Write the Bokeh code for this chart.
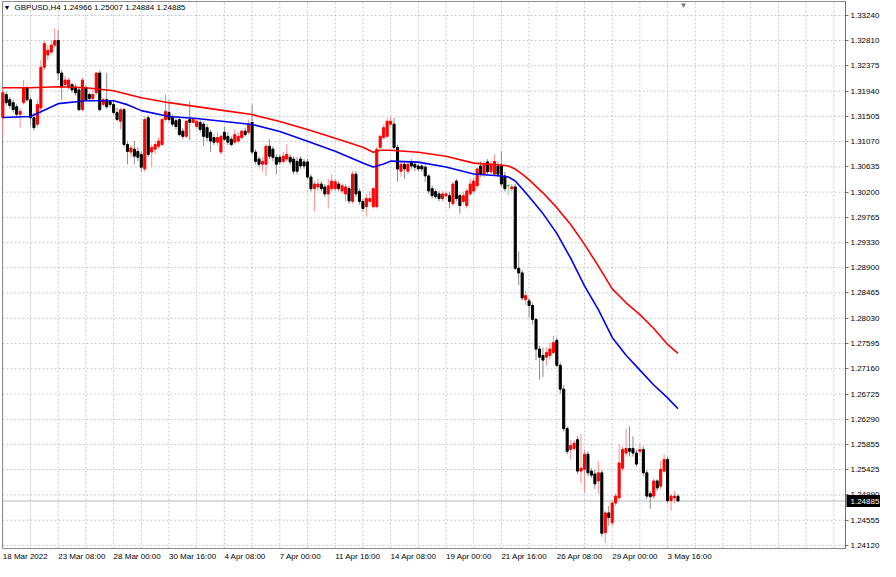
from bokeh.plotting import figure
from bokeh.models import (ColumnDataSource, Range1d, FixedTicker, Label, LabelSet,
                          LinearAxis, NumeralTickFormatter)
from bokeh.core.properties import value
from bokeh.embed import file_html
from bokeh.resources import INLINE

# ---------------- data ----------------
symbol = "GBPUSD,H4"

open_ = [
    1.3148, 1.3188, 1.3179, 1.3174, 1.3167, 1.3154, 1.3174, 1.3200, 1.3179, 1.3148,
    1.3137, 1.3165, 1.3235, 1.3256, 1.3261, 1.3273, 1.3281, 1.3225, 1.3205, 1.3201,
    1.3205, 1.3201, 1.3196, 1.3162, 1.3200, 1.3188, 1.3181, 1.3191, 1.3225, 1.3171,
    1.3179, 1.3176, 1.3171, 1.3157, 1.3142, 1.3162, 1.3102, 1.3089, 1.3094, 1.3090,
    1.3085, 1.3060, 1.3148, 1.3089, 1.3094, 1.3099, 1.3102, 1.3145, 1.3157, 1.3148,
    1.3143, 1.3145, 1.3125, 1.3116, 1.3145, 1.3140, 1.3133, 1.3140, 1.3137, 1.3131,
    1.3123, 1.3114, 1.3106, 1.3089, 1.3123, 1.3116, 1.3111, 1.3106, 1.3108, 1.3114,
    1.3125, 1.3123, 1.3140, 1.3089, 1.3077, 1.3068, 1.3068, 1.3099, 1.3094, 1.3080,
    1.3080, 1.3073, 1.3077, 1.3080, 1.3077, 1.3073, 1.3077, 1.3072, 1.3072, 1.3046,
    1.3026, 1.3029, 1.3034, 1.3029, 1.3017, 1.3026, 1.3026, 1.3034, 1.3022, 1.3017,
    1.3026, 1.3004, 1.3051, 1.3021, 1.3004, 1.2995, 1.3004, 1.2995, 1.2995, 1.3097,
    1.3114, 1.3116, 1.3137, 1.3137, 1.3097, 1.3056, 1.3068, 1.3056, 1.3072, 1.3068,
    1.3065, 1.3065, 1.3063, 1.3048, 1.3026, 1.3021, 1.3017, 1.3009, 1.3014, 1.3014,
    1.3000, 1.3039, 1.3014, 1.3004, 1.2997, 1.3017, 1.3022, 1.3031, 1.3065, 1.3051,
    1.3072, 1.3055, 1.3051, 1.3065, 1.3065, 1.3048, 1.3031, 1.3026, 1.3029, 1.2889,
    1.2881, 1.2835, 1.2833, 1.2825, 1.2801, 1.2750, 1.2739, 1.2736, 1.2739, 1.2744,
    1.2765, 1.2722, 1.2681, 1.2613, 1.2577, 1.2579, 1.2594, 1.2540, 1.2543, 1.2569,
    1.2540, 1.2535, 1.2523, 1.2537, 1.2434, 1.2468, 1.2451, 1.2485, 1.2494, 1.2545,
    1.2571, 1.2579, 1.2579, 1.2571, 1.2574, 1.2577, 1.2537, 1.2501, 1.2497, 1.2523,
    1.2514, 1.2540, 1.2560, 1.2489, 1.2494, 1.24966,
]
high = [
    1.3200, 1.3193, 1.3184, 1.3179, 1.3172, 1.3164, 1.3213, 1.3203, 1.3184, 1.3157,
    1.3179, 1.3247, 1.3281, 1.3273, 1.3281, 1.3302, 1.3299, 1.3230, 1.3220, 1.3217,
    1.3208, 1.3206, 1.3201, 1.3217, 1.3205, 1.3191, 1.3196, 1.3227, 1.3230, 1.3183,
    1.3225, 1.3179, 1.3177, 1.3165, 1.3165, 1.3165, 1.3108, 1.3101, 1.3108, 1.3097,
    1.3090, 1.3150, 1.3152, 1.3102, 1.3108, 1.3114, 1.3148, 1.3188, 1.3179, 1.3154,
    1.3148, 1.3148, 1.3130, 1.3145, 1.3176, 1.3148, 1.3145, 1.3145, 1.3142, 1.3137,
    1.3128, 1.3119, 1.3123, 1.3119, 1.3133, 1.3123, 1.3116, 1.3128, 1.3123, 1.3128,
    1.3131, 1.3145, 1.3171, 1.3094, 1.3082, 1.3080, 1.3102, 1.3111, 1.3099, 1.3085,
    1.3085, 1.3089, 1.3102, 1.3085, 1.3082, 1.3080, 1.3082, 1.3077, 1.3077, 1.3051,
    1.3039, 1.3043, 1.3039, 1.3034, 1.3043, 1.3051, 1.3043, 1.3039, 1.3036, 1.3034,
    1.3031, 1.3056, 1.3056, 1.3026, 1.3009, 1.3017, 1.3022, 1.3029, 1.3097, 1.3119,
    1.3137, 1.3148, 1.3150, 1.3148, 1.3102, 1.3073, 1.3073, 1.3073, 1.3077, 1.3072,
    1.3070, 1.3068, 1.3068, 1.3051, 1.3031, 1.3026, 1.3022, 1.3022, 1.3021, 1.3021,
    1.3038, 1.3043, 1.3017, 1.3021, 1.3026, 1.3043, 1.3046, 1.3063, 1.3073, 1.3073,
    1.3077, 1.3073, 1.3085, 1.3073, 1.3090, 1.3055, 1.3034, 1.3034, 1.3034, 1.2918,
    1.2886, 1.2850, 1.2838, 1.2830, 1.2804, 1.2756, 1.2753, 1.2753, 1.2761, 1.2773,
    1.2770, 1.2727, 1.2688, 1.2617, 1.2594, 1.2594, 1.2600, 1.2603, 1.2577, 1.2574,
    1.2545, 1.2542, 1.2557, 1.2542, 1.2472, 1.2480, 1.2489, 1.2502, 1.2586, 1.2583,
    1.2613, 1.2617, 1.2600, 1.2577, 1.2588, 1.2583, 1.2542, 1.2506, 1.2528, 1.2526,
    1.2557, 1.2569, 1.2565, 1.2501, 1.2506, 1.25007,
]
low = [
    1.3119, 1.3169, 1.3164, 1.3157, 1.3148, 1.3131, 1.3171, 1.3176, 1.3133, 1.3126,
    1.3131, 1.3154, 1.3230, 1.3247, 1.3256, 1.3268, 1.3213, 1.3179, 1.3200, 1.3196,
    1.3191, 1.3186, 1.3159, 1.3159, 1.3176, 1.3177, 1.3179, 1.3188, 1.3159, 1.3167,
    1.3164, 1.3165, 1.3154, 1.3142, 1.3128, 1.3097, 1.3068, 1.3080, 1.3068, 1.3073,
    1.3055, 1.3055, 1.3080, 1.3063, 1.3085, 1.3094, 1.3099, 1.3142, 1.3140, 1.3133,
    1.3128, 1.3116, 1.3111, 1.3113, 1.3109, 1.3137, 1.3128, 1.3123, 1.3099, 1.3108,
    1.3089, 1.3101, 1.3101, 1.3085, 1.3108, 1.3101, 1.3099, 1.3102, 1.3104, 1.3109,
    1.3116, 1.3119, 1.3085, 1.3068, 1.3063, 1.3056, 1.3048, 1.3077, 1.3073, 1.3051,
    1.3067, 1.3068, 1.3072, 1.3067, 1.3051, 1.3051, 1.3060, 1.3060, 1.3043, 1.3021,
    1.2987, 1.3022, 1.3021, 1.3012, 1.2992, 1.3021, 1.3022, 1.3021, 1.3017, 1.3004,
    1.3000, 1.3000, 1.3012, 1.2998, 1.2987, 1.2978, 1.3000, 1.2992, 1.2992, 1.3094,
    1.3111, 1.3113, 1.3133, 1.3094, 1.3038, 1.3046, 1.3043, 1.3051, 1.3060, 1.3056,
    1.3056, 1.3055, 1.3038, 1.3017, 1.3009, 1.3009, 1.3004, 1.3004, 1.3009, 1.2992,
    1.2997, 1.3004, 1.2983, 1.3000, 1.2992, 1.3014, 1.3017, 1.3026, 1.3046, 1.3046,
    1.3050, 1.3051, 1.3048, 1.3046, 1.3029, 1.3021, 1.3014, 1.3021, 1.2886, 1.2860,
    1.2833, 1.2826, 1.2804, 1.2792, 1.2731, 1.2698, 1.2702, 1.2722, 1.2732, 1.2741,
    1.2719, 1.2673, 1.2608, 1.2569, 1.2560, 1.2574, 1.2535, 1.2519, 1.2502, 1.2531,
    1.2528, 1.2509, 1.2501, 1.2427, 1.2416, 1.2446, 1.2446, 1.2480, 1.2489, 1.2540,
    1.2565, 1.2565, 1.2565, 1.2548, 1.2569, 1.2531, 1.2492, 1.2475, 1.2492, 1.2506,
    1.2509, 1.2537, 1.2485, 1.2472, 1.2485, 1.24884,
]
close = [
    1.3191, 1.3174, 1.3169, 1.3162, 1.3154, 1.3159, 1.3200, 1.3179, 1.3148, 1.3131,
    1.3171, 1.3235, 1.3276, 1.3264, 1.3273, 1.3281, 1.3225, 1.3201, 1.3213, 1.3213,
    1.3196, 1.3191, 1.3162, 1.3213, 1.3179, 1.3181, 1.3188, 1.3225, 1.3162, 1.3179,
    1.3167, 1.3171, 1.3157, 1.3145, 1.3162, 1.3102, 1.3090, 1.3096, 1.3082, 1.3080,
    1.3063, 1.3145, 1.3085, 1.3097, 1.3102, 1.3108, 1.3145, 1.3159, 1.3145, 1.3137,
    1.3133, 1.3119, 1.3116, 1.3142, 1.3140, 1.3145, 1.3142, 1.3128, 1.3116, 1.3114,
    1.3108, 1.3106, 1.3114, 1.3116, 1.3111, 1.3106, 1.3102, 1.3119, 1.3116, 1.3125,
    1.3119, 1.3137, 1.3089, 1.3073, 1.3068, 1.3073, 1.3099, 1.3082, 1.3080, 1.3068,
    1.3072, 1.3082, 1.3085, 1.3072, 1.3056, 1.3056, 1.3065, 1.3065, 1.3046, 1.3026,
    1.3034, 1.3034, 1.3026, 1.3017, 1.3031, 1.3039, 1.3038, 1.3026, 1.3031, 1.3029,
    1.3005, 1.3051, 1.3017, 1.3004, 1.2992, 1.3009, 1.3009, 1.3026, 1.3094, 1.3116,
    1.3131, 1.3142, 1.3142, 1.3097, 1.3060, 1.3068, 1.3060, 1.3068, 1.3065, 1.3063,
    1.3060, 1.3060, 1.3048, 1.3022, 1.3014, 1.3012, 1.3009, 1.3017, 1.3017, 1.3004,
    1.3034, 1.3009, 1.2997, 1.3014, 1.3022, 1.3034, 1.3039, 1.3060, 1.3051, 1.3068,
    1.3055, 1.3068, 1.3073, 1.3051, 1.3034, 1.3026, 1.3031, 1.3029, 1.2889, 1.2881,
    1.2838, 1.2842, 1.2825, 1.2801, 1.2750, 1.2736, 1.2731, 1.2744, 1.2750, 1.2761,
    1.2722, 1.2681, 1.2613, 1.2574, 1.2584, 1.2588, 1.2540, 1.2545, 1.2569, 1.2537,
    1.2533, 1.2518, 1.2537, 1.2433, 1.2468, 1.2460, 1.2485, 1.2497, 1.2554, 1.2577,
    1.2579, 1.2574, 1.2571, 1.2552, 1.2577, 1.2537, 1.2497, 1.2496, 1.2523, 1.2511,
    1.2543, 1.2560, 1.2489, 1.2497, 1.2497, 1.24885,
]

# moving averages (values read at sampled bars)
ma_slow_bars = [0, 8, 16, 24, 32, 40, 48, 56, 64, 72, 80, 88, 96, 104, 107, 109, 112,
                120, 128, 136, 140, 144, 146, 148, 150, 152, 156, 160, 164, 168, 172,
                176, 180, 184, 188, 192, 195]
ma_slow = [1.31996, 1.31996, 1.32013, 1.31996, 1.31944, 1.31825, 1.31740, 1.31672,
           1.31603, 1.31535, 1.31416, 1.31280, 1.31126, 1.30973, 1.30887, 1.30922,
           1.30922, 1.30887, 1.30819, 1.30700, 1.30683, 1.30666, 1.30649, 1.30598,
           1.30512, 1.30410, 1.30189, 1.29933, 1.29643, 1.29302, 1.28927, 1.28535,
           1.28296, 1.28092, 1.27853, 1.27580, 1.27427]
ma_fast_bars = [0, 8, 16, 24, 32, 36, 40, 48, 56, 64, 72, 80, 88, 96, 104, 107, 110,
                112, 120, 128, 136, 140, 144, 146, 148, 150, 152, 156, 160, 164, 168,
                172, 176, 180, 184, 188, 192, 195]
ma_fast = [1.31484, 1.31501, 1.31723, 1.31774, 1.31774, 1.31706, 1.31603, 1.31501,
           1.31467, 1.31416, 1.31365, 1.31245, 1.31075, 1.30904, 1.30700, 1.30632,
           1.30683, 1.30734, 1.30717, 1.30632, 1.30512, 1.30495, 1.30478, 1.30461,
           1.30393, 1.30257, 1.30120, 1.29831, 1.29490, 1.29063, 1.28586, 1.28177,
           1.27700, 1.27393, 1.27137, 1.26881, 1.26660, 1.26472]

x_tick_bars = [0, 16, 32, 48, 64, 80, 96, 112, 128, 144, 160, 176, 192]
x_tick_labels = ["18 Mar 2022", "23 Mar 08:00", "28 Mar 00:00", "30 Mar 16:00",
                 "4 Apr 08:00", "7 Apr 00:00", "11 Apr 16:00", "14 Apr 08:00",
                 "19 Apr 00:00", "21 Apr 16:00", "26 Apr 08:00", "29 Apr 00:00",
                 "3 May 16:00"]
y_ticks = [1.33240, 1.32810, 1.32375, 1.31940, 1.31505, 1.31070, 1.30635, 1.30200,
           1.29765, 1.29330, 1.28900, 1.28465, 1.28030, 1.27595, 1.27160, 1.26725,
           1.26290, 1.25855, 1.25425, 1.24990, 1.24555, 1.24120]

# ---------------- geometry / style ----------------
W, H = 880, 561
PX_PER_BAR = 3.4625        # horizontal spacing of bars
BAR0_PX = 2.3              # canvas x of the first bar
PX_PER_UNIT = 5811.0       # vertical pixels per 1.0 of price
REF_PRICE, REF_PX = 1.33240, 15
X_START = -BAR0_PX / PX_PER_BAR
X_END = X_START + W / PX_PER_BAR
Y_TOP = REF_PRICE + REF_PX / PX_PER_UNIT
Y_BOTTOM = Y_TOP - H / PX_PER_UNIT


def xd(px):
    return X_START + px / PX_PER_BAR


def yd(py):
    return Y_TOP - py / PX_PER_UNIT


PLOT_L, PLOT_T, PLOT_R, PLOT_B = 2, 1, 845, 548
FONT = "Liberation Sans"
FS = "8px"
GRID_COLOR = "#c3c9d2"

bars = list(range(len(close)))
body_top, body_bot, body_col, wick_col = [], [], [], []
for o, c in zip(open_, close):
    body_top.append(max(o, c))
    body_bot.append(min(o, c))
    if c > o:
        body_col.append("#ff0000"); wick_col.append("#ff8c8c")
    elif c < o:
        body_col.append("#000000"); wick_col.append("#8c8c8c")
    else:
        body_col.append("#00cc00"); wick_col.append("#8ce08c")

src = ColumnDataSource(dict(x=bars, high=high, low=low, top=body_top, bottom=body_bot,
                            bc=body_col, wc=wick_col))

p = figure(width=W, height=H, x_range=Range1d(X_START, X_END),
           y_range=Range1d(Y_BOTTOM, Y_TOP), x_axis_type=None, y_axis_type=None,
           output_backend="svg", toolbar_location=None, min_border=0,
           background_fill_color="white", border_fill_color="white",
           outline_line_color=None)

# grid (dotted, only inside the chart area)
x_left, x_right, y_top_, y_bot_ = xd(PLOT_L), xd(PLOT_R), yd(PLOT_T), yd(PLOT_B)
grid_bars = [b for b in range(0, 256, 8) if xd(0) <= b <= x_right]
p.segment(x0=[x_left] * len(y_ticks), x1=[x_right] * len(y_ticks), y0=y_ticks, y1=y_ticks,
          line_color=GRID_COLOR, line_dash="2 2", line_width=1)
p.segment(x0=grid_bars, x1=grid_bars, y0=[y_bot_] * len(grid_bars),
          y1=[y_top_] * len(grid_bars), line_color=GRID_COLOR, line_dash="2 2", line_width=1)

# chart-area border
p.quad(left=[x_left], right=[x_right], top=[y_top_], bottom=[y_bot_], fill_color=None,
       line_color="#8c8c8c", line_width=1)

# last price line
p.segment(x0=[x_left], x1=[x_right], y0=[close[-1]], y1=[close[-1]],
          line_color="#b8b8b8", line_width=1)

# candles
p.segment(x0="x", y0="high", x1="x", y1="low", line_color="wc", line_width=1, source=src)
p.vbar(x="x", width=0.6, top="top", bottom="bottom", fill_color="bc", line_color="bc",
       line_width=1, source=src)

# moving averages
p.line(ma_slow_bars, ma_slow, line_color="#ff0000", line_width=1.6)
p.line(ma_fast_bars, ma_fast, line_color="#0000ee", line_width=1.6)

# price scale on the right edge of the chart area
ya = LinearAxis(fixed_location=x_right, ticker=FixedTicker(ticks=y_ticks),
                formatter=NumeralTickFormatter(format="0.00000"), bounds=(y_bot_, y_top_))
ya.axis_line_color = "#6e6e6e"
ya.major_tick_line_color = "#6e6e6e"
ya.major_tick_out = 3
ya.major_tick_in = 0
ya.minor_tick_out = 0
ya.minor_tick_in = 0
ya.major_label_standoff = 2
ya.major_label_text_font = FONT
ya.major_label_text_font_size = FS
ya.major_label_text_color = "#000000"
p.add_layout(ya, "right")

# current price box on the price scale (drawn above the scale)
half_h = 6.0 / PX_PER_UNIT
p.quad(left=[xd(PLOT_R + 1)], right=[xd(PLOT_R + 35)], top=[close[-1] + half_h],
       bottom=[close[-1] - half_h], fill_color="#000000", line_color=None, level="overlay")
p.text(x=[xd(PLOT_R + 5)], y=[close[-1]], text=[f"{close[-1]:.5f}"],
       text_color="#ffffff", text_font=value(FONT), text_font_size=value(FS),
       text_align="left", text_baseline="middle", level="overlay")

# time labels below the chart (left aligned at their bar, as in the terminal)
xsrc = ColumnDataSource(dict(x=x_tick_bars, text=x_tick_labels))
p.add_layout(LabelSet(x="x", y=yd(PLOT_B + 3), text="text", source=xsrc, x_offset=0,
                      text_align="left", text_baseline="top", text_font=value(FONT),
                      text_font_size=FS, text_color="#000000"))

# header
p.add_layout(Label(x=xd(3), y=yd(3), text="\u25bc", text_font=FONT, text_font_size="7px",
                   text_color="#000000", text_baseline="top", text_align="left"))
header = f"{symbol}  {open_[-1]:.5f} {high[-1]:.5f} {low[-1]:.5f} {close[-1]:.5f}"
p.add_layout(Label(x=xd(14), y=yd(2), text=header, text_font=FONT, text_font_size=FS,
                   text_color="#000000", text_baseline="top", text_align="left"))

# chart-shift marker at the top
p.add_layout(Label(x=bars[-1] + 1.6, y=yd(0), text="\u25bc", text_font=FONT,
                   text_font_size="8px", text_color="#6b7b8f", text_baseline="top",
                   text_align="center"))

open("out.html", "w").write(file_html(p, INLINE))
